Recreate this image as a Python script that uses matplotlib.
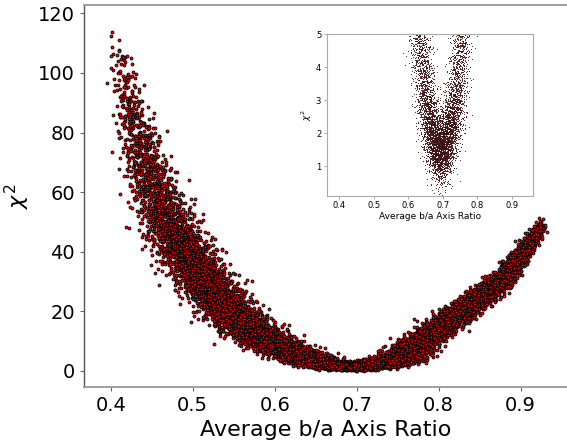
import numpy as np
import matplotlib
matplotlib.use("Agg")
import matplotlib.pyplot as plt

# ---- values -----------------------------------------------------------
# ridge of the point cloud (average b/a axis ratio -> chi^2)
ridge_x   = [0.405, 0.410, 0.415, 0.423, 0.432, 0.443, 0.455, 0.470, 0.490, 0.515,
             0.545, 0.570, 0.592, 0.615, 0.632, 0.652, 0.668, 0.693, 0.718, 0.738,
             0.755, 0.765, 0.778, 0.800, 0.832, 0.855, 0.878, 0.903, 0.921, 0.926]
ridge_chi = [110, 105, 99, 90, 80, 70, 60, 50, 40, 30,
             20, 14, 10, 7, 5, 3, 2, 1.2, 2, 3,
             5, 7, 10, 14.5, 21, 26, 31, 40, 47, 49.5]
# horizontal spread of the cloud around the ridge
spread_x  = [0.005, 0.006, 0.007, 0.009, 0.011, 0.013, 0.015, 0.016, 0.017, 0.017,
             0.017, 0.017, 0.016, 0.015, 0.015, 0.015, 0.015, 0.015, 0.015, 0.015,
             0.014, 0.013, 0.012, 0.011, 0.010, 0.009, 0.007, 0.005, 0.0035, 0.0025]
# vertical spread of the cloud around the ridge
spread_chi = [4.0, 4.0, 4.0, 4.0, 3.8, 3.5, 3.2, 2.8, 2.4, 1.9,
              1.4, 1.1, 0.9, 0.7, 0.6, 0.5, 0.45, 0.45, 0.45, 0.5,
              0.55, 0.6, 0.7, 0.8, 0.9, 1.0, 1.1, 1.2, 1.1, 0.9]
# relative number of points along the ridge
density   = [0.06, 0.12, 0.2, 0.35, 0.55, 0.7, 0.8, 0.9, 1.0, 1.0,
             1.0, 1.0, 1.0, 1.1, 1.3, 1.6, 1.7, 1.7, 1.7, 1.6,
             1.4, 1.2, 1.0, 1.0, 1.0, 1.0, 1.0, 0.9, 0.7, 0.3]
n_points = 14000

main_xticks = [0.4, 0.5, 0.6, 0.7, 0.8, 0.9]
main_yticks = [0, 20, 40, 60, 80, 100, 120]
inset_yticks = [1, 2, 3, 4, 5]
xlabel = "Average b/a Axis Ratio"
ylabel = r"$\chi^2$"


# ---- build the cloud (deterministic Halton sampling) ------------------
def halton(n, base, skip=37):
    i = np.arange(skip + 1, skip + n + 1)
    f = 1.0
    out = np.zeros(n)
    while np.any(i > 0):
        f /= base
        out += f * (i % base)
        i //= base
    return out


u0 = halton(n_points, 2)
u1 = halton(n_points, 3)
u2 = halton(n_points, 5)
grid = np.linspace(ridge_x[0], ridge_x[-1], 2000)
dens = np.interp(grid, ridge_x, density)
cdf = np.concatenate([[0], np.cumsum(0.5 * (dens[1:] + dens[:-1]) * np.diff(grid))])
cdf /= cdf[-1]
xt = np.interp(u0, cdf, grid)
r = np.sqrt(-2.0 * np.log(np.clip(u1, 1e-6, 1)))
n1 = r * np.cos(2 * np.pi * u2)
n2 = r * np.sin(2 * np.pi * u2)
chi_t = np.interp(xt, ridge_x, ridge_chi)
xs = xt + np.interp(xt, ridge_x, spread_x) * n1
chis = np.abs(chi_t + np.interp(xt, ridge_x, spread_chi) * n2)

# ---- figure ------------------------------------------------------------
fig = plt.figure(figsize=(5.67, 4.44), dpi=100)
ax = fig.add_axes([84 / 567, (444 - 386.7) / 444, 483 / 567, 381.7 / 444])
ax.scatter(xs, chis, s=4.5, facecolor="red", edgecolor="black", linewidths=0.6)
ax.set_xlim(0.3674, 0.9565)
ax.set_ylim(-5.3, 122.8)
ax.set_xticks(main_xticks)
ax.set_yticks(main_yticks)
ax.tick_params(labelsize=14, length=3, width=0.8, color="#666666")
ax.set_xlabel(xlabel, fontsize=16)
ax.set_ylabel(ylabel, fontsize=16)
ax.spines["right"].set_visible(False)
ax.spines["left"].set_color("#555555")
ax.spines["left"].set_linewidth(1.0)
for s in ("top", "bottom"):
    ax.spines[s].set_color("#999999")
    ax.spines[s].set_linewidth(1.3)

axi = fig.add_axes([326.7 / 567, (444 - 195.7) / 444, 206.6 / 567, 161.7 / 444])
axi.scatter(xs, chis, s=0.6, color="#3a1010", linewidths=0)
axi.set_xlim(0.364, 0.962)
axi.set_ylim(0.1, 5)
axi.set_xticks(main_xticks)
axi.set_yticks(inset_yticks)
axi.tick_params(labelsize=6, length=2, width=0.5, color="#888888", pad=2)
axi.set_xlabel(xlabel, fontsize=6.5, labelpad=1)
axi.set_ylabel(ylabel, fontsize=6.5, labelpad=1)
for s in axi.spines.values():
    s.set_color("#aaaaaa")
    s.set_linewidth(0.8)

fig.savefig("out.png", dpi=100)
